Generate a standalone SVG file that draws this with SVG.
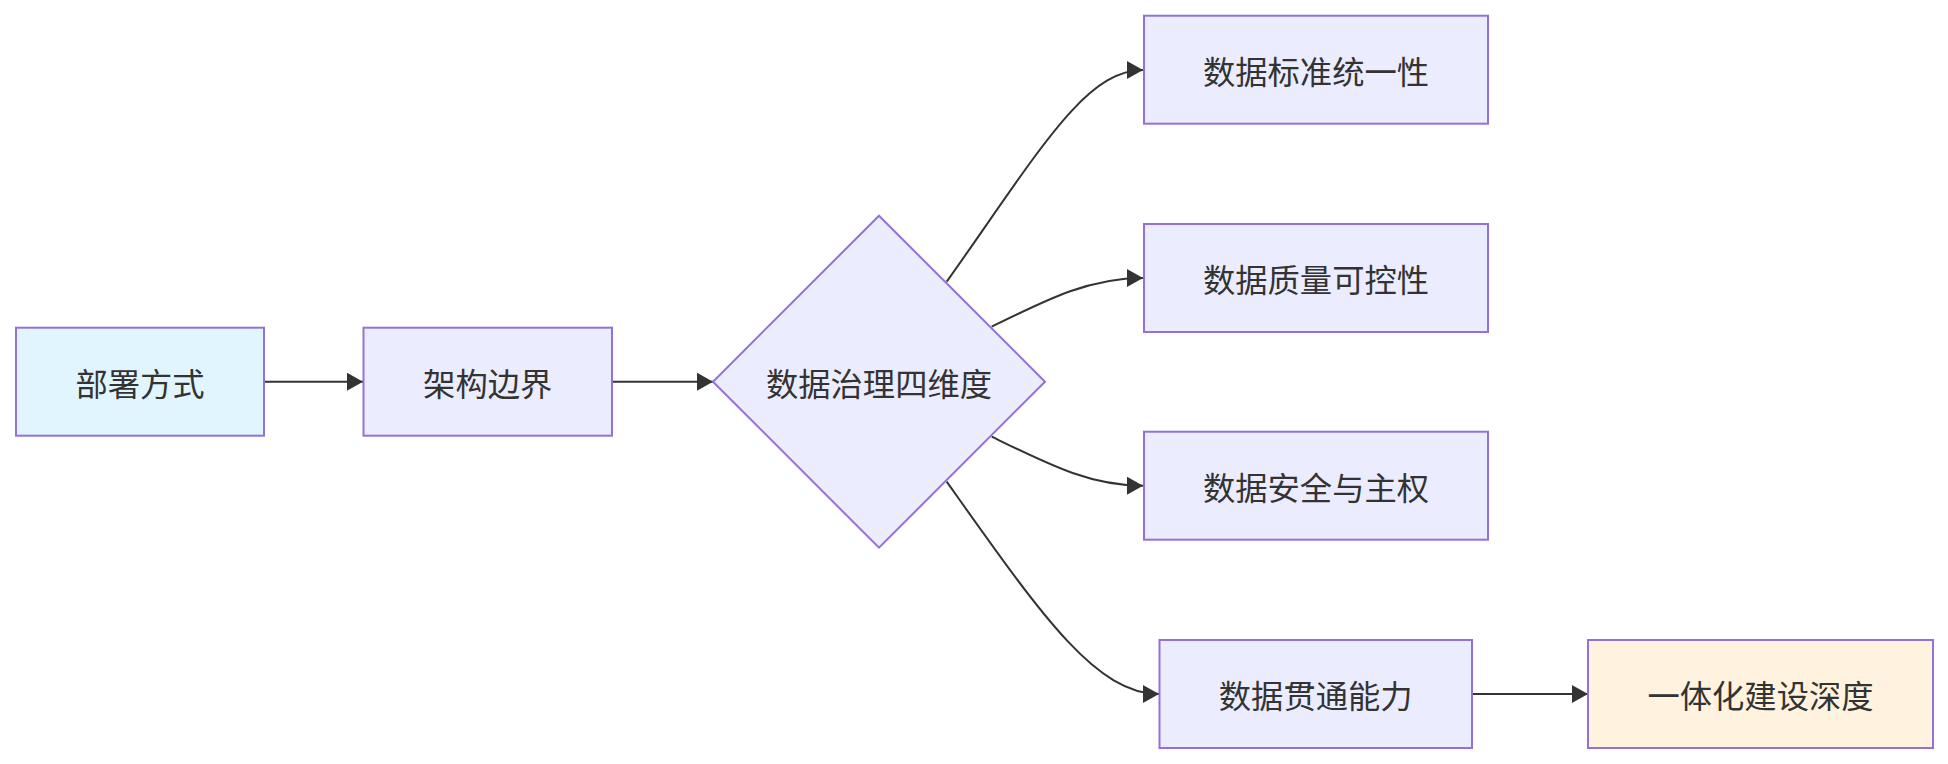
<svg xmlns="http://www.w3.org/2000/svg" width="1948" height="764" viewBox="0 0 1948 764">
<style>
.node{fill:#ECECFF;stroke:#9370DB;stroke-width:2;}
.blue{fill:#E1F5FE;}
.orange{fill:#FFF3E0;}
.lbl{font-family:"Noto Sans CJK SC","Noto Sans",sans-serif;font-size:32.3px;fill:#333333;text-anchor:middle;dominant-baseline:central;}
.edge{fill:none;stroke:#333333;stroke-width:2;}
</style>
<defs>
<marker id="arr" markerUnits="userSpaceOnUse" markerWidth="17" markerHeight="18" refX="16" refY="9" orient="auto" viewBox="0 0 17 18">
<path d="M0,0 L16,9 L0,18 z" fill="#333333"/>
</marker>
</defs>
<rect width="1948" height="764" fill="#ffffff"/>
<g id="connectors">
<path class="edge" d="M264,381.7 L363,381.7" marker-end="url(#arr)"/>
<path class="edge" d="M612,381.7 L713,381.7" marker-end="url(#arr)"/>
<path class="edge" d="M946.7,281.7 C1040,150 1085,70 1143,70" marker-end="url(#arr)"/>
<path class="edge" d="M991.7,326.7 C1050,298 1090,278 1143,278" marker-end="url(#arr)"/>
<path class="edge" d="M991.7,436.7 C1050,465 1090,485.7 1143,485.7" marker-end="url(#arr)"/>
<path class="edge" d="M946.7,481.7 C1040,613 1095,694 1159,694" marker-end="url(#arr)"/>
<path class="edge" d="M1472,694 L1588,694" marker-end="url(#arr)"/>
</g>
<g id="deploy">
<rect class="node blue" x="16" y="327.7" width="248" height="108"/>
<text class="lbl" x="140" y="381.7">部署方式</text>
</g>
<g id="arch">
<rect class="node" x="363.5" y="327.7" width="248.5" height="108"/>
<text class="lbl" x="487.7" y="381.7">架构边界</text>
</g>
<g id="gov">
<polygon class="node" points="879,215.7 1045,381.7 879,547.7 713,381.7"/>
<text class="lbl" x="879" y="381.7">数据治理四维度</text>
</g>
<g id="std">
<rect class="node" x="1144" y="15.7" width="344" height="108"/>
<text class="lbl" x="1316" y="69.7">数据标准统一性</text>
</g>
<g id="quality">
<rect class="node" x="1144" y="224" width="344" height="108"/>
<text class="lbl" x="1316" y="278">数据质量可控性</text>
</g>
<g id="security">
<rect class="node" x="1144" y="431.7" width="344" height="108"/>
<text class="lbl" x="1316" y="485.7">数据安全与主权</text>
</g>
<g id="connect">
<rect class="node" x="1159.5" y="640" width="312.5" height="108"/>
<text class="lbl" x="1315.7" y="694">数据贯通能力</text>
</g>
<g id="depth">
<rect class="node orange" x="1588" y="640" width="345" height="108"/>
<text class="lbl" x="1760.5" y="694">一体化建设深度</text>
</g>
</svg>
